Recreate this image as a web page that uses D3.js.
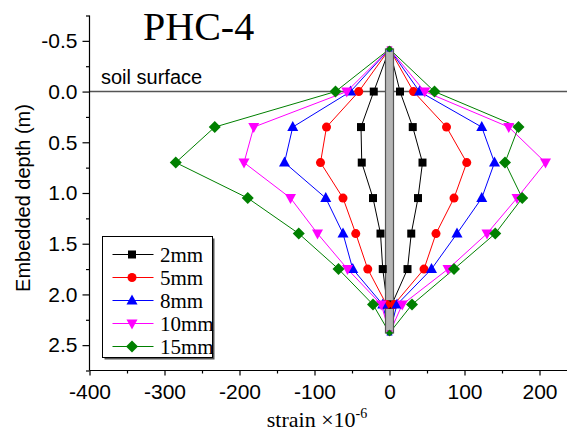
<!DOCTYPE html>
<html>
<head>
<meta charset="utf-8">
<script src="https://cdn.jsdelivr.net/npm/d3@7"></script>
<style>
  html, body { margin: 0; padding: 0; background: #fff; }
  svg { display: block; }
</style>
</head>
<body>
<svg id="chart" width="567" height="434"></svg>
<script>
// ---------- data ----------
const depths = [-0.42, 0, 0.35, 0.7, 1.05, 1.4, 1.75, 2.1, 2.38];
const seriesNames = ["2mm", "5mm", "8mm", "10mm", "15mm"];
const s2mmLeft   = [0, -21, -38, -37, -22, -12, -9, -3, 0];
const s2mmRight  = [0, 14, 31, 44, 38, 29, 24, 3, 0];
const s5mmLeft   = [0, -41, -84, -92, -62, -45, -29, -4, 0];
const s5mmRight  = [0, 32, 76, 103, 86, 62, 46, 6, 0];
const s8mmLeft   = [0, -52, -129, -140, -85, -62, -49, -9, 0];
const s8mmRight  = [0, 40, 123, 140, 123, 90, 56, 10, 0];
const s10mmLeft  = [0, -57, -181, -194, -132, -96, -56, -11, 0];
const s10mmRight = [0, 47, 159, 208, 170, 130, 78, 17, 0];
const s15mmLeft  = [0, -72, -233, -285, -189, -121, -68, -22, 0];
const s15mmRight = [0, 60, 172, 154, 177, 141, 86, 30, 0];
const pileTop = -0.42, pileBottom = 2.38, pileHalfWidth = 4;
const xTicks = [-400, -300, -200, -100, 0, 100, 200];
const xMinorTicks = [-350, -250, -150, -50, 50, 150];
const yTicks = [-0.5, 0.0, 0.5, 1.0, 1.5, 2.0, 2.5];
const yMinorTicks = [-0.75, -0.25, 0.25, 0.75, 1.25, 1.75, 2.25, 2.75];

const series = [
  { name: "2mm",  left: s2mmLeft,  right: s2mmRight,  color: "#000000", symbol: "square" },
  { name: "5mm",  left: s5mmLeft,  right: s5mmRight,  color: "#ff0000", symbol: "circle" },
  { name: "8mm",  left: s8mmLeft,  right: s8mmRight,  color: "#0000ff", symbol: "triUp" },
  { name: "10mm", left: s10mmLeft, right: s10mmRight, color: "#ff00ff", symbol: "triDown" },
  { name: "15mm", left: s15mmLeft, right: s15mmRight, color: "#008000", symbol: "diamond" }
];

// ---------- layout ----------
const svg = d3.select("#chart");
const x = d3.scaleLinear().domain([-400, 240]).range([89.5, 569.5]);
const y = d3.scaleLinear().domain([-0.75, 2.75]).range([15.5, 370.5]);
const sans = "'Liberation Sans', Arial, sans-serif";
const serif = "'Liberation Serif', 'Times New Roman', serif";
const hyphenFmt = f => d => d3.format(f)(d).replace("\u2212", "-");

function symbolPath(type) {
  switch (type) {
    case "square": return "M-4,-4H4V4H-4Z";
    case "circle": return d3.symbol(d3.symbolCircle, 64)();
    case "triUp": return "M0,-6L5.5,4L-5.5,4Z";
    case "triDown": return "M0,6L5.5,-4L-5.5,-4Z";
    case "diamond": return "M0,-6L6,0L0,6L-6,0Z";
  }
}

// soil surface line
svg.append("line")
  .attr("x1", x(-400)).attr("x2", 567)
  .attr("y1", y(0)).attr("y2", y(0))
  .attr("stroke", "#555").attr("stroke-width", 1.5);

svg.append("text")
  .attr("x", 101).attr("y", 84)
  .attr("font-family", sans).attr("font-size", 20)
  .text("soil surface");

// lines
const line = d3.line().x(d => x(d[0])).y(d => y(d[1]));
series.forEach(s => {
  [s.left, s.right].forEach(vals => {
    const pts = vals.map((v, i) => [v, depths[i]]);
    svg.append("path")
      .attr("d", line(pts))
      .attr("fill", "none")
      .attr("stroke", s.color)
      .attr("stroke-width", 1);
  });
});

// pile
svg.append("rect")
  .attr("x", x(0) - pileHalfWidth)
  .attr("y", y(pileTop))
  .attr("width", pileHalfWidth * 2)
  .attr("height", y(pileBottom) - y(pileTop))
  .attr("fill", "#b4b4b4")
  .attr("stroke", "#555")
  .attr("stroke-width", 1.2);

// markers
series.forEach(s => {
  [s.left, s.right].forEach(vals => {
    vals.forEach((v, i) => {
      const inner = i > 0 && i < vals.length - 1;
      svg.append("path")
        .attr("d", symbolPath(s.symbol))
        .attr("transform", `translate(${x(v)},${y(depths[i])})${inner ? "" : " scale(0.55)"}`)
        .attr("fill", s.color);
    });
  });
});

// axes
const xAxis = svg.append("g").attr("transform", `translate(0,${y(2.75)})`)
  .call(d3.axisBottom(x).tickValues(xTicks).tickFormat(hyphenFmt("d")).tickSize(5).tickPadding(9));
svg.append("g").attr("transform", `translate(0,${y(2.75)})`)
  .call(d3.axisBottom(x).tickValues(xMinorTicks).tickFormat("").tickSize(3))
  .select(".domain").remove();
xAxis.select(".domain").attr("d", `M${x(-400)},0H567`);

const yAxis = svg.append("g").attr("transform", `translate(${x(-400)},0)`)
  .call(d3.axisLeft(y).tickValues(yTicks).tickFormat(hyphenFmt(".1f")).tickSize(7).tickPadding(5));
svg.append("g").attr("transform", `translate(${x(-400)},0)`)
  .call(d3.axisLeft(y).tickValues(yMinorTicks).tickFormat("").tickSize(3.5))
  .select(".domain").remove();
yAxis.select(".domain").attr("d", `M0,${y(-0.75)}V${y(2.75)}`);

svg.selectAll(".tick text").attr("font-family", sans).attr("font-size", 21).attr("fill", "#000");
svg.selectAll(".tick line, .domain").attr("stroke", "#000").attr("stroke-width", 1.2);

// titles
svg.append("text")
  .attr("x", 143).attr("y", 40)
  .attr("font-family", serif).attr("font-size", 40)
  .text("PHC-4");

svg.append("text")
  .attr("transform", "translate(30,198) rotate(-90)")
  .attr("text-anchor", "middle")
  .attr("font-family", sans).attr("font-size", 20)
  .text("Embedded depth (m)");

const xt = svg.append("text")
  .attr("x", 317).attr("y", 427)
  .attr("text-anchor", "middle")
  .attr("font-family", serif).attr("font-size", 22);
xt.append("tspan").text("strain \u00d710");
xt.append("tspan").attr("dy", -9).attr("font-size", 14).text("-6");

// legend
const lg = svg.append("g");
const lgX = 102.5, lgY = 236.5, lgW = 110, lgH = 121;
lg.append("rect").attr("x", lgX + 2).attr("y", lgY + 2).attr("width", lgW).attr("height", lgH)
  .attr("fill", "#555");
lg.append("rect").attr("x", lgX).attr("y", lgY).attr("width", lgW).attr("height", lgH)
  .attr("fill", "#fff").attr("stroke", "#000").attr("stroke-width", 1);
series.forEach((s, i) => {
  const cy = 254.5 + i * 23;
  lg.append("line").attr("x1", 112.5).attr("x2", 153.5).attr("y1", cy).attr("y2", cy)
    .attr("stroke", s.color).attr("stroke-width", 1);
  lg.append("path").attr("d", symbolPath(s.symbol))
    .attr("transform", `translate(132,${cy})`).attr("fill", s.color);
  lg.append("text").attr("x", 160).attr("y", cy + 7)
    .attr("font-family", serif).attr("font-size", 21)
    .text(s.name);
});
</script>
</body>
</html>
